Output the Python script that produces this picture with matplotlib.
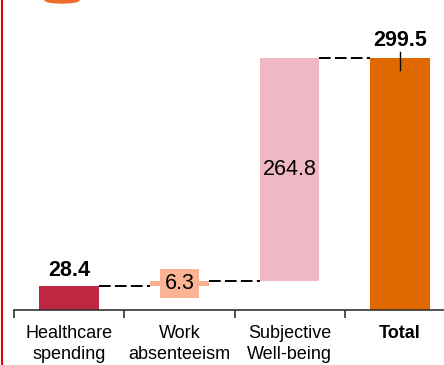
import matplotlib.pyplot as plt
from matplotlib.patches import Ellipse
from matplotlib.lines import Line2D

plt.rcParams['font.family'] = ['Liberation Sans', 'DejaVu Sans']

categories = ['Healthcare\nspending', 'Work\nabsenteeism', 'Subjective\nWell-being', 'Total']
values = [28.4, 6.3, 264.8]
total = 299.5
colors = ['#BE2641', '#F9B08F', '#F0B8C4', '#E06A00']

fig = plt.figure(figsize=(4.44, 3.65), dpi=100)
ax = fig.add_axes([14 / 444, 55 / 365, 430 / 444, 310 / 365])

w = 0.54
bottoms = [0, values[0], values[0] + values[1]]
for i, v in enumerate(values):
    ax.bar(i, v, bottom=bottoms[i], width=w, color=colors[i], zorder=2)
ax.bar(3, total, width=w, color=colors[3], zorder=2)

# connectors between bars
tops = [values[0], values[0] + values[1], total]
for i, t in enumerate(tops):
    ax.plot([i + w / 2, i + 1 - w / 2], [t, t], color='black', lw=1.4,
            dashes=(6, 2.2), zorder=1)

# value labels
ax.text(0, values[0] + 6, '28.4', ha='center', va='bottom', fontsize=15.5,
        fontweight='bold')
ax.text(1, bottoms[1] + values[1] / 2, '6.3', ha='center', va='center',
        fontsize=15.5, zorder=3,
        bbox=dict(boxstyle='square,pad=0.2', fc='#FBB393', ec='none'))
ax.text(2, bottoms[2] + values[2] / 2, '264.8', ha='center', va='center',
        fontsize=15.5)
ax.text(3, total + 8, '299.5', ha='center', va='bottom', fontsize=15.5,
        fontweight='bold')
ax.plot([3, 3], [total + 7, total - 14], color='black', lw=1, zorder=3)

ax.set_xlim(-0.5, 3.4)
ax.set_ylim(0, 368.6)
ax.set_xticks(range(4))
ax.set_xticklabels(categories, fontsize=13, linespacing=1.3)
ax.get_xticklabels()[3].set_fontweight('bold')
ax.tick_params(axis='x', which='major', length=0, pad=11)
ax.set_xticks([-0.5, 0.5, 1.5, 2.5], minor=True)
ax.tick_params(axis='x', which='minor', length=6, width=1.2, color='#333333')
ax.set_yticks([])
for s in ['top', 'right', 'left']:
    ax.spines[s].set_visible(False)
ax.spines['bottom'].set_color('#333333')
ax.spines['bottom'].set_linewidth(1.2)

# left red border and the cut-off logo at the top
fig.add_artist(Line2D([1.5 / 444, 1.5 / 444], [0, 1], color='#E00010', lw=1.5))
fig.add_artist(Ellipse((62 / 444, 1.0), 34 / 444, 6 / 365, color='#EE6A2A'))

fig.savefig('out.png', dpi=100)
